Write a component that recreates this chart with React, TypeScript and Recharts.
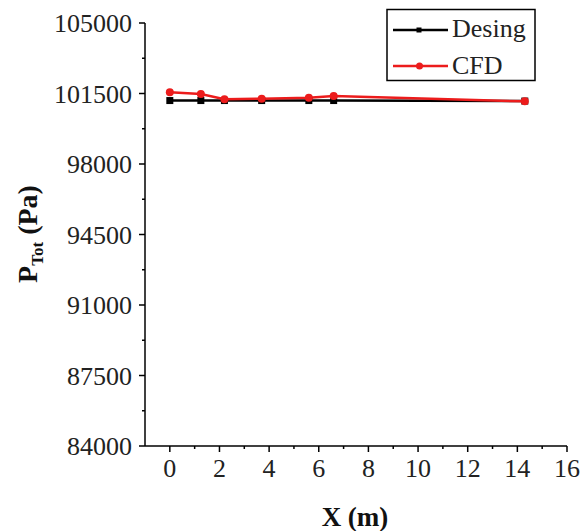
import { LineChart, Line, XAxis, YAxis } from "recharts";

const xPositions = [0, 1.25, 2.2, 3.7, 5.6, 6.6, 14.3];
const designValues = [101150, 101150, 101150, 101150, 101150, 101150, 101125];
const cfdValues = [101560, 101470, 101210, 101240, 101290, 101370, 101110];

const xMajorTicks = [0, 2, 4, 6, 8, 10, 12, 14, 16];
const xMinorTicks = [1, 3, 5, 7, 9, 11, 13, 15];
const yMajorTicks = [84000, 87500, 91000, 94500, 98000, 101500, 105000];
const yMinorTicks = [85750, 89250, 92750, 96250, 99750, 103250];

const data = xPositions.map((x, i) => ({ x, design: designValues[i], cfd: cfdValues[i] }));

const FONT = '"Liberation Serif", "Times New Roman", "DejaVu Serif", serif';
const RED = "#ec1c1c";

const XTick = (props: any) => {
  const { x, y, payload } = props;
  const major = xMajorTicks.includes(payload.value);
  const axisY = y - 10;
  return (
    <g>
      <line x1={x} x2={x} y1={axisY} y2={axisY + (major ? 6 : 3)} stroke="#000" strokeWidth={1.5} />
      {major && (
        <text x={x} y={axisY + 31} textAnchor="middle" fontFamily={FONT} fontSize={26} fill="#222">
          {payload.value}
        </text>
      )}
    </g>
  );
};

const YTick = (props: any) => {
  const { x, y, payload } = props;
  const major = yMajorTicks.includes(payload.value);
  const axisX = x + 10;
  return (
    <g>
      <line x1={axisX - (major ? 6 : 3)} x2={axisX} y1={y} y2={y} stroke="#000" strokeWidth={1.5} />
      {major && (
        <text x={axisX - 13} y={y + 9} textAnchor="end" fontFamily={FONT} fontSize={26} fill="#222">
          {payload.value}
        </text>
      )}
    </g>
  );
};

const SquareDot = (props: any) => {
  const { cx, cy } = props;
  if (cx == null || cy == null) return null;
  return <rect x={cx - 3.5} y={cy - 3.5} width={7} height={7} fill="#000" />;
};

const LegendBox = () => (
  <svg width={152} height={75} style={{ position: "absolute", left: 385, top: 8 }}>
    <rect x={2} y={1.5} width={148} height={71} fill="#fff" stroke="#000" strokeWidth={1.5} />
    <line x1={8} x2={63} y1={22} y2={22} stroke="#000" strokeWidth={2.5} />
    <rect x={31.5} y={19.5} width={5} height={5} fill="#000" />
    <text x={67} y={29} fontFamily={FONT} fontSize={26} fill="#222">Desing</text>
    <line x1={8} x2={63} y1={58} y2={58} stroke={RED} strokeWidth={2.5} />
    <circle cx={34.5} cy={58} r={3.5} fill={RED} />
    <text x={67} y={66} fontFamily={FONT} fontSize={26} fill="#222">CFD</text>
  </svg>
);

export default function App() {
  return (
    <div style={{ position: "absolute", left: 0, top: 0, width: 581, height: 531, background: "#fff", fontFamily: FONT }}>
      <LineChart
        width={581}
        height={531}
        data={data}
        margin={{ top: 23, right: 14, bottom: 0, left: 0 }}
        style={{ fontFamily: FONT }}
      >
        <XAxis
          type="number"
          dataKey="x"
          domain={[-1, 16]}
          ticks={[...xMajorTicks, ...xMinorTicks].sort((a, b) => a - b)}
          interval={0}
          tick={<XTick />}
          tickLine={false}
          tickSize={6}
          tickMargin={4}
          axisLine={{ stroke: "#000", strokeWidth: 1.5 }}
          height={85}
          label={() => (
            <text x={355} y={526} textAnchor="middle" fontFamily={FONT} fontSize={27} fontWeight="bold" fill="#111">
              X (m)
            </text>
          )}
        />
        <YAxis
          type="number"
          domain={[84000, 105000]}
          ticks={[...yMajorTicks, ...yMinorTicks].sort((a, b) => a - b)}
          interval={0}
          tick={<YTick />}
          tickLine={false}
          tickSize={6}
          tickMargin={4}
          axisLine={{ stroke: "#000", strokeWidth: 1.5 }}
          width={145}
          label={() => (
            <text
              transform="translate(37, 234) rotate(-90)"
              textAnchor="middle"
              fontFamily={FONT}
              fontSize={28}
              fontWeight="bold"
              fill="#111"
            >
              P
              <tspan fontSize={17} dy={6}>Tot</tspan>
              <tspan dy={-6}> (Pa)</tspan>
            </text>
          )}
        />
        <Line
          dataKey="design"
          stroke="#000"
          strokeWidth={2.5}
          dot={<SquareDot />}
          isAnimationActive={false}
        />
        <Line
          dataKey="cfd"
          stroke={RED}
          strokeWidth={2.5}
          dot={{ r: 4, fill: RED, stroke: RED, strokeWidth: 0 }}
          isAnimationActive={false}
        />
      </LineChart>
      <LegendBox />
    </div>
  );
}
